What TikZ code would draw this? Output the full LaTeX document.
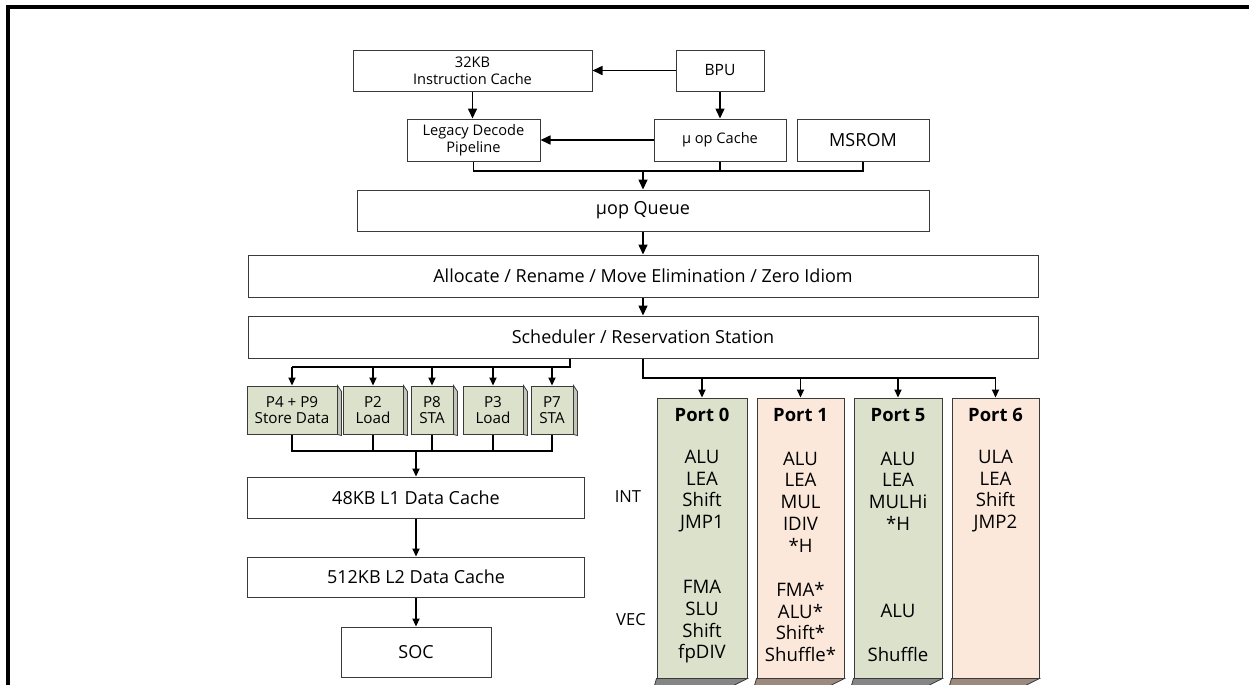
\documentclass[tikz,border=0pt]{standalone}
\usepackage{fontspec}
\setmainfont{Open Sans}
\usetikzlibrary{arrows.meta,calc}
\definecolor{gbox}{HTML}{DCE1CC}
\definecolor{pbox}{HTML}{FBE8DB}
\definecolor{gside}{HTML}{858585}
\definecolor{pside}{HTML}{9C8A7E}
\definecolor{edge}{HTML}{3A3A3A}
\tikzset{
  blk/.style={draw=edge, line width=0.5pt, inner sep=1pt, align=center, font=\fontsize{9}{11}\selectfont},
  sml/.style={blk, font=\fontsize{7.3}{8.6}\selectfont},
  ld/.style={blk, fill=gbox, minimum height=24pt, font=\fontsize{7.6}{8}\selectfont},
  port/.style={draw=edge, line width=0.5pt, minimum height=140pt, inner sep=0pt},
  hd/.style={font=\bfseries\fontsize{9.2}{11}\selectfont, inner sep=0pt},
  ops/.style={align=center, inner sep=0pt, font=\fontsize{9.3}{10.85}\selectfont},
  lbl/.style={inner sep=0pt, font=\fontsize{8.3}{10}\selectfont},
  arr/.style={line width=0.8pt, -{Triangle[length=5pt,width=4.5pt]}},
  arr2/.style={line width=0.6pt, -{Triangle[length=4pt,width=3.6pt]}},
  ln/.style={line width=0.8pt},
  ln2/.style={line width=0.6pt},
  frame/.style={line width=1.6pt}
}
\begin{document}
\begin{tikzpicture}[x=0.5pt,y=-0.5pt]
\useasboundingbox (0,0) rectangle (1249,685);
\draw[frame] (8,685) -- (8,7) -- (1249,7);

\node[sml, minimum width=119.5pt, minimum height=20.5pt] (icache) at (472.5,70.5) {32KB\\Instruction Cache};
\node[sml, font=\fontsize{7.8}{9}\selectfont, minimum width=44pt, minimum height=20.5pt] (bpu) at (720,70.5) {BPU};
\node[sml, minimum width=66.5pt, minimum height=21pt] (legacy) at (473.5,140) {Legacy Decode\\Pipeline};
\node[sml, minimum width=66pt, minimum height=21pt] (uopc) at (720,140) {µ op Cache};
\node[blk, minimum width=66pt, minimum height=21pt] (msrom) at (863,140) {MSROM};
\node[blk, minimum width=286pt, minimum height=20.5pt] (queue) at (643,210.5) {µop Queue};
\node[blk, minimum width=395pt, minimum height=21pt] (alloc) at (643,276) {Allocate / Rename / Move Elimination / Zero Idiom};
\node[blk, minimum width=395pt, minimum height=21pt] (sched) at (643,337) {Scheduler / Reservation Station};

\foreach \n/\x/\w/\t in {p49/292/45/{P4 + P9\\Store Data}, p2/373/30/{P2\\Load}, p8/432/21/{P8\\STA}, p3/493/30/{P3\\Load}, p7/552/21/{P7\\STA}}{
  \node[ld, minimum width=\w pt] (\n) at (\x,410) {\t};
  \filldraw[fill=gbox!70!gside, draw=edge, line width=0.4pt] (\n.north east) -- ++(4,6) -- ++(0,44) -- (\n.south east) -- cycle;
}

\node[blk, minimum width=168.5pt, minimum height=20.5pt] (l1) at (416,497.5) {48KB L1 Data Cache};
\node[blk, minimum width=168.5pt, minimum height=20pt] (l2) at (416,577) {512KB L2 Data Cache};
\node[blk, minimum width=75pt, minimum height=25pt] (soc) at (416,652) {SOC};

\foreach \n/\x/\w/\c/\s/\h in {p0/702/45/gbox/gside/Port 0, p1/800.5/43.5/pbox/pside/Port 1, p5/898/44/gbox/gside/Port 5, p6/995.5/43.5/pbox/pside/Port 6}{
  \node[port, fill=\c, minimum width=\w pt] (\n) at (\x,538) {};
  \filldraw[fill=\s, draw=edge, line width=0.4pt] (\n.south west) -- (\n.south east) -- ++(-14,7) -- ($(\n.south west)+(-2,7)$) -- cycle;
  \node[hd] (\n-h) at (\x,415) {\h};
}

\node[ops] (p0-int) at (702,491) {ALU\\LEA\\Shift\\JMP1};
\node[ops] (p1-int) at (800.5,502) {ALU\\LEA\\MUL\\IDIV\\*H};
\node[ops] (p5-int) at (898,491) {ALU\\LEA\\MULHi\\*H};
\node[ops] (p6-int) at (995.5,491) {ULA\\LEA\\Shift\\JMP2};
\node[ops] (p0-vec) at (702,622) {FMA\\SLU\\Shift\\fpDIV};
\node[ops] (p1-vec) at (800.5,622) {FMA*\\ALU*\\Shift*\\Shuffle*};
\node[ops] (p5-vec) at (898,622) {\phantom{A}\\ALU\\\phantom{A}\\Shuffle};

\node[lbl] (int) at (628,497) {INT};
\node[lbl] (vec) at (631,620) {VEC};

\draw[arr] (bpu) -- (icache);
\draw[arr] (icache.south) -- (icache.south |- legacy.north);
\draw[arr] (bpu) -- (uopc);
\draw[arr] (uopc) -- (legacy);
\coordinate (mq) at (643,171);
\draw[ln] (legacy.south) |- (mq) -| (msrom.south);
\draw[ln] (uopc.south) -- (uopc.south |- mq);
\draw[arr] (mq) -- (queue);
\draw[arr] (queue) -- (alloc);
\draw[arr] (alloc) -- (sched);

\coordinate (ls) at (570,367);
\draw[ln] (ls |- sched.south) -- (ls) -- (ls -| p49);
\foreach \n in {p49,p2,p8,p3,p7} \draw[arr2] (ls -| \n) -- (\n.north);
\coordinate (ps) at (643,378);
\draw[ln] (ps |- sched.south) -- (ps) -- (ps -| p6);
\foreach \n in {p0,p1,p5,p6} \draw[arr2] (ps -| \n) -- (\n.north);

\coordinate (lm) at (416,451);
\foreach \n in {p49,p2,p8,p3,p7} \draw[ln2] (\n.south) |- (lm);
\draw[arr2] (lm) -- (l1);
\draw[arr2] (l1) -- (l2);
\draw[arr2] (l2) -- (soc);
\end{tikzpicture}
\end{document}
